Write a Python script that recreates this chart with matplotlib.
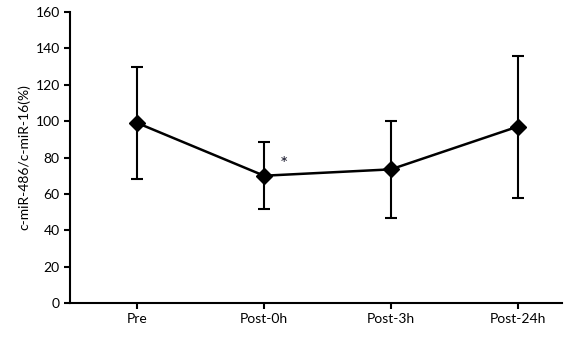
import matplotlib
matplotlib.use('Agg')
import matplotlib.pyplot as plt

plt.rcParams['font.family'] = ['Lato', 'DejaVu Sans']

labels = ['Pre', 'Post-0h', 'Post-3h', 'Post-24h']
means = [99, 70, 73.5, 97]
errors = [31, 18.5, 26.5, 39]

fig = plt.figure(figsize=(5.7, 3.37), dpi=100)
ax = fig.add_axes([0.123, 0.101, 0.863, 0.863])

x = list(range(len(labels)))
ax.errorbar(x, means, yerr=errors, color='black', lw=1.8, elinewidth=1.5,
            capsize=4.5, capthick=1.5, marker='D', markersize=8, zorder=3)
# significance marker
ax.text(x[1] + 0.16, 76, '*', fontsize=14, ha='center', va='center', color='#1a1a2e')

ax.set_xlim(-0.53, 3.35)
ax.set_ylim(0, 160)
ax.set_yticks(range(0, 161, 20))
ax.set_xticks(x)
ax.set_xticklabels(labels)
ax.set_ylabel('c-miR-486/c-miR-16(%)', fontsize=10)
for s in ['top', 'right']:
    ax.spines[s].set_visible(False)
for s in ['left', 'bottom']:
    ax.spines[s].set_linewidth(1.5)
ax.tick_params(axis='both', labelsize=10, width=1.5, length=4)

fig.savefig('out.png', dpi=100)
